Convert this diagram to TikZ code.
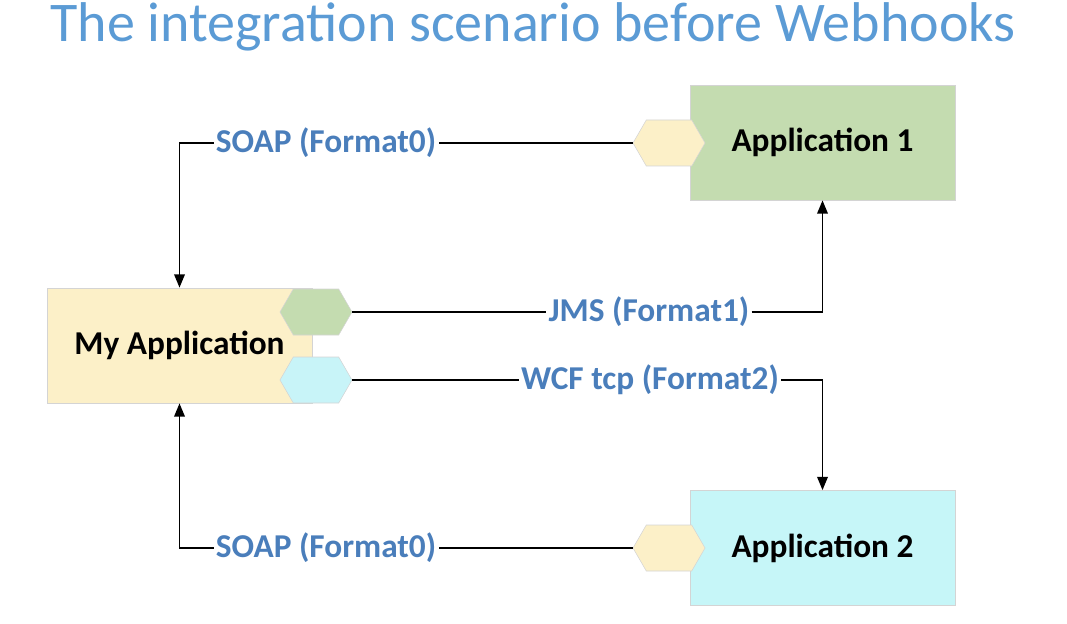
\documentclass[tikz,border=0pt]{standalone}
\usepackage{fontspec}
\setmainfont{Carlito}
\usetikzlibrary{shapes.symbols,arrows.meta}
\definecolor{titleblue}{HTML}{5B9BD5}
\definecolor{labelblue}{HTML}{4A7EBB}
\definecolor{cream}{HTML}{FCF0C8}
\definecolor{appgreen}{HTML}{C4DCB0}
\definecolor{appcyan}{HTML}{C6F6F8}
\definecolor{hexcyan}{HTML}{C8F4F8}
\definecolor{edgegray}{HTML}{D4D4D4}
\tikzset{
  appbox/.style={draw=edgegray, line width=0.6pt, minimum width=198.75pt, minimum height=86.25pt,
    font=\fontsize{25}{30}\selectfont\bfseries, text=black},
  hexport/.style={shape=signal, signal to=east and west, signal pointer angle=120,
    draw=edgegray, line width=0.4pt, minimum width=54pt, minimum height=34.5pt, inner sep=0pt},
  proto/.style={fill=white, inner xsep=1.5pt, inner ysep=1pt, text=labelblue,
    font=\fontsize{25}{30}\selectfont\bfseries},
  link/.style={draw=black, line width=1.2pt},
  arr/.style={link, -{Triangle[width=8pt,length=10pt]}}
}
\begin{document}
\begin{tikzpicture}[x=0.75pt,y=-0.75pt]
\useasboundingbox (0,0) rectangle (1067,624);
\node[anchor=base, text=titleblue, font=\fontsize{42}{50}\selectfont] (title) at (533,42) {The integration scenario before Webhooks};
% boxes
\node[appbox, fill=cream] (myapp) at (179.5,345.5) {My Application};
\node[appbox, fill=appgreen] (app1) at (822.5,142.5) {Application 1};
\node[appbox, fill=appcyan] (app2) at (822.5,548) {Application 2};
% ports
\node[hexport, fill=appgreen] (pjms) at (316,312) {};
\node[hexport, fill=hexcyan] (pwcf) at (316,380) {};
\node[hexport, fill=cream] (p1) at (669,143) {};
\node[hexport, fill=cream] (p2) at (669,548) {};
% labels
\node[proto] (soap1) at (326,143) {SOAP (Format0)};
\node[proto] (jms) at (649,312) {JMS (Format1)};
\node[proto] (wcf) at (650,380) {WCF tcp (Format2)};
\node[proto] (soap2) at (326,548) {SOAP (Format0)};
% connectors
\draw[link] (p1.west) -- (soap1.east);
\draw[arr] (soap1.west) -| (myapp.north);
\draw[link] (pjms.east) -- (jms.west);
\draw[arr] (jms.east) -| (app1.south);
\draw[link] (pwcf.east) -- (wcf.west);
\draw[arr] (wcf.east) -| (app2.north);
\draw[link] (p2.west) -- (soap2.east);
\draw[arr] (soap2.west) -| (myapp.south);
\end{tikzpicture}
\end{document}
